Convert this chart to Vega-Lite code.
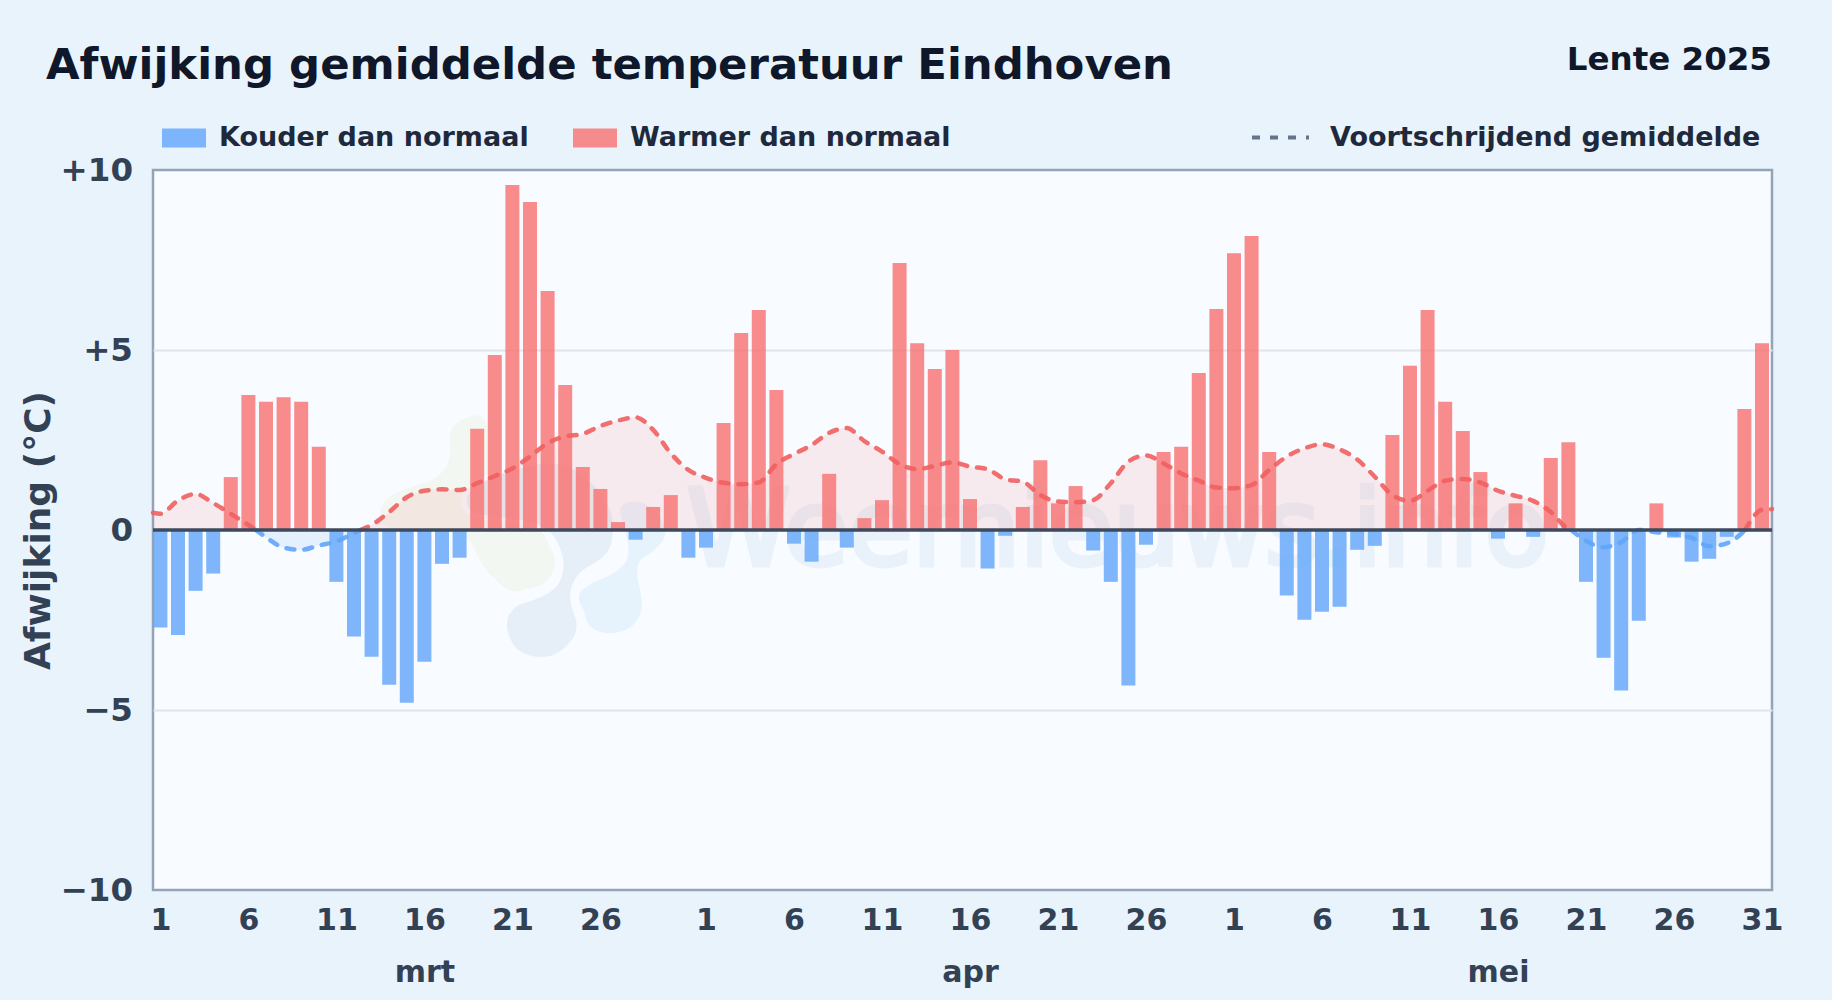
{
"$schema":"https://vega.github.io/schema/vega-lite/v6.json",
"width":1619,"height":720,
"autosize":{"type":"none"},
"padding":{"left":153,"top":170,"right":60,"bottom":110},
"background":"#e9f3fc",
"view":{"fill":"#f8fbff","stroke":"#94a3b8","strokeWidth":2.5},
"title":{"text":"Afwijking gemiddelde temperatuur Eindhoven","anchor":"start","frame":"group","dx":-107,"offset":0,"dy":78,"baseline":"alphabetic","font":"DejaVu Sans","fontSize":43.4,"fontWeight":"bold","color":"#0f172a"},
"config":{"font":"DejaVu Sans"},
"datasets":{
"dagen":[
{"datum":"2025-03-01","afwijking":-2.71},{"datum":"2025-03-02","afwijking":-2.92},{"datum":"2025-03-03","afwijking":-1.69},{"datum":"2025-03-04","afwijking":-1.21},{"datum":"2025-03-05","afwijking":1.47},{"datum":"2025-03-06","afwijking":3.75},{"datum":"2025-03-07","afwijking":3.56},{"datum":"2025-03-08","afwijking":3.69},{"datum":"2025-03-09","afwijking":3.56},{"datum":"2025-03-10","afwijking":2.31},{"datum":"2025-03-11","afwijking":-1.44},{"datum":"2025-03-12","afwijking":-2.96},{"datum":"2025-03-13","afwijking":-3.52},{"datum":"2025-03-14","afwijking":-4.3},{"datum":"2025-03-15","afwijking":-4.8},{"datum":"2025-03-16","afwijking":-3.66},{"datum":"2025-03-17","afwijking":-0.94},{"datum":"2025-03-18","afwijking":-0.77},{"datum":"2025-03-19","afwijking":2.81},{"datum":"2025-03-20","afwijking":4.86},{"datum":"2025-03-21","afwijking":9.58},{"datum":"2025-03-22","afwijking":9.11},{"datum":"2025-03-23","afwijking":6.64},{"datum":"2025-03-24","afwijking":4.03},{"datum":"2025-03-25","afwijking":1.75},{"datum":"2025-03-26","afwijking":1.14},{"datum":"2025-03-27","afwijking":0.22},{"datum":"2025-03-28","afwijking":-0.27},{"datum":"2025-03-29","afwijking":0.64},{"datum":"2025-03-30","afwijking":0.97},{"datum":"2025-03-31","afwijking":-0.77},
{"datum":"2025-04-01","afwijking":-0.49},{"datum":"2025-04-02","afwijking":2.97},{"datum":"2025-04-03","afwijking":5.47},{"datum":"2025-04-04","afwijking":6.11},{"datum":"2025-04-05","afwijking":3.89},{"datum":"2025-04-06","afwijking":-0.38},{"datum":"2025-04-07","afwijking":-0.88},{"datum":"2025-04-08","afwijking":1.56},{"datum":"2025-04-09","afwijking":-0.49},{"datum":"2025-04-10","afwijking":0.33},{"datum":"2025-04-11","afwijking":0.83},{"datum":"2025-04-12","afwijking":7.42},{"datum":"2025-04-13","afwijking":5.19},{"datum":"2025-04-14","afwijking":4.47},{"datum":"2025-04-15","afwijking":5.0},{"datum":"2025-04-16","afwijking":0.86},{"datum":"2025-04-17","afwijking":-1.07},{"datum":"2025-04-18","afwijking":-0.16},{"datum":"2025-04-19","afwijking":0.64},{"datum":"2025-04-20","afwijking":1.94},{"datum":"2025-04-21","afwijking":0.74},{"datum":"2025-04-22","afwijking":1.22},{"datum":"2025-04-23","afwijking":-0.57},{"datum":"2025-04-24","afwijking":-1.44},{"datum":"2025-04-25","afwijking":-4.32},{"datum":"2025-04-26","afwijking":-0.41},{"datum":"2025-04-27","afwijking":2.17},{"datum":"2025-04-28","afwijking":2.31},{"datum":"2025-04-29","afwijking":4.36},{"datum":"2025-04-30","afwijking":6.14},
{"datum":"2025-05-01","afwijking":7.69},{"datum":"2025-05-02","afwijking":8.17},{"datum":"2025-05-03","afwijking":2.17},{"datum":"2025-05-04","afwijking":-1.82},{"datum":"2025-05-05","afwijking":-2.49},{"datum":"2025-05-06","afwijking":-2.27},{"datum":"2025-05-07","afwijking":-2.13},{"datum":"2025-05-08","afwijking":-0.55},{"datum":"2025-05-09","afwijking":-0.44},{"datum":"2025-05-10","afwijking":2.64},{"datum":"2025-05-11","afwijking":4.56},{"datum":"2025-05-12","afwijking":6.11},{"datum":"2025-05-13","afwijking":3.56},{"datum":"2025-05-14","afwijking":2.75},{"datum":"2025-05-15","afwijking":1.61},{"datum":"2025-05-16","afwijking":-0.24},{"datum":"2025-05-17","afwijking":0.74},{"datum":"2025-05-18","afwijking":-0.19},{"datum":"2025-05-19","afwijking":2.0},{"datum":"2025-05-20","afwijking":2.44},{"datum":"2025-05-21","afwijking":-1.44},{"datum":"2025-05-22","afwijking":-3.55},{"datum":"2025-05-23","afwijking":-4.46},{"datum":"2025-05-24","afwijking":-2.52},{"datum":"2025-05-25","afwijking":0.74},{"datum":"2025-05-26","afwijking":-0.21},{"datum":"2025-05-27","afwijking":-0.88},{"datum":"2025-05-28","afwijking":-0.8},{"datum":"2025-05-29","afwijking":-0.19},{"datum":"2025-05-30","afwijking":3.36},{"datum":"2025-05-31","afwijking":5.19}
],
"gemiddelde":[
{"datum":"2025-02-28T13:55:00Z","gem":0.48,"deel":"w1"},{"datum":"2025-03-01","gem":0.45,"deel":"w1"},{"datum":"2025-03-02","gem":0.82,"deel":"w1"},{"datum":"2025-03-03","gem":1.0,"deel":"w1"},{"datum":"2025-03-04","gem":0.75,"deel":"w1"},{"datum":"2025-03-05","gem":0.45,"deel":"w1"},{"datum":"2025-03-06","gem":0.14,"deel":"w1"},{"datum":"2025-03-06T10:00:00Z","gem":0,"deel":"w1"},
{"datum":"2025-03-06T10:00:00Z","gem":0,"deel":"k1"},{"datum":"2025-03-07","gem":-0.2,"deel":"k1"},{"datum":"2025-03-08","gem":-0.49,"deel":"k1"},{"datum":"2025-03-09","gem":-0.55,"deel":"k1"},{"datum":"2025-03-10","gem":-0.43,"deel":"k1"},{"datum":"2025-03-11","gem":-0.32,"deel":"k1"},{"datum":"2025-03-12","gem":-0.09,"deel":"k1"},{"datum":"2025-03-12T09:00:00Z","gem":0,"deel":"k1"},
{"datum":"2025-03-12T09:00:00Z","gem":0,"deel":"w2"},{"datum":"2025-03-13","gem":0.14,"deel":"w2"},{"datum":"2025-03-14","gem":0.5,"deel":"w2"},{"datum":"2025-03-15","gem":0.91,"deel":"w2"},{"datum":"2025-03-16","gem":1.09,"deel":"w2"},{"datum":"2025-03-17","gem":1.13,"deel":"w2"},{"datum":"2025-03-18","gem":1.11,"deel":"w2"},{"datum":"2025-03-19","gem":1.3,"deel":"w2"},{"datum":"2025-03-20","gem":1.5,"deel":"w2"},{"datum":"2025-03-21","gem":1.71,"deel":"w2"},{"datum":"2025-03-22","gem":2.04,"deel":"w2"},{"datum":"2025-03-23","gem":2.41,"deel":"w2"},{"datum":"2025-03-24","gem":2.6,"deel":"w2"},{"datum":"2025-03-25","gem":2.67,"deel":"w2"},{"datum":"2025-03-26","gem":2.89,"deel":"w2"},{"datum":"2025-03-27","gem":3.04,"deel":"w2"},{"datum":"2025-03-28","gem":3.13,"deel":"w2"},{"datum":"2025-03-29","gem":2.78,"deel":"w2"},{"datum":"2025-03-30","gem":2.13,"deel":"w2"},{"datum":"2025-03-31","gem":1.67,"deel":"w2"},
{"datum":"2025-04-01","gem":1.45,"deel":"w2"},{"datum":"2025-04-02","gem":1.31,"deel":"w2"},{"datum":"2025-04-03","gem":1.27,"deel":"w2"},{"datum":"2025-04-04","gem":1.32,"deel":"w2"},{"datum":"2025-04-05","gem":1.83,"deel":"w2"},{"datum":"2025-04-06","gem":2.11,"deel":"w2"},{"datum":"2025-04-07","gem":2.36,"deel":"w2"},{"datum":"2025-04-08","gem":2.7,"deel":"w2"},{"datum":"2025-04-09","gem":2.83,"deel":"w2"},{"datum":"2025-04-10","gem":2.47,"deel":"w2"},{"datum":"2025-04-11","gem":2.18,"deel":"w2"},{"datum":"2025-04-12","gem":1.83,"deel":"w2"},{"datum":"2025-04-13","gem":1.69,"deel":"w2"},{"datum":"2025-04-14","gem":1.78,"deel":"w2"},{"datum":"2025-04-15","gem":1.88,"deel":"w2"},{"datum":"2025-04-16","gem":1.76,"deel":"w2"},{"datum":"2025-04-17","gem":1.69,"deel":"w2"},{"datum":"2025-04-18","gem":1.41,"deel":"w2"},{"datum":"2025-04-19","gem":1.34,"deel":"w2"},{"datum":"2025-04-20","gem":0.97,"deel":"w2"},{"datum":"2025-04-21","gem":0.79,"deel":"w2"},{"datum":"2025-04-22","gem":0.77,"deel":"w2"},{"datum":"2025-04-23","gem":0.83,"deel":"w2"},{"datum":"2025-04-24","gem":1.3,"deel":"w2"},{"datum":"2025-04-25","gem":1.9,"deel":"w2"},{"datum":"2025-04-26","gem":2.07,"deel":"w2"},{"datum":"2025-04-27","gem":1.85,"deel":"w2"},{"datum":"2025-04-28","gem":1.57,"deel":"w2"},{"datum":"2025-04-29","gem":1.37,"deel":"w2"},{"datum":"2025-04-30","gem":1.18,"deel":"w2"},
{"datum":"2025-05-01","gem":1.16,"deel":"w2"},{"datum":"2025-05-02","gem":1.25,"deel":"w2"},{"datum":"2025-05-03","gem":1.67,"deel":"w2"},{"datum":"2025-05-04","gem":2.04,"deel":"w2"},{"datum":"2025-05-05","gem":2.27,"deel":"w2"},{"datum":"2025-05-06","gem":2.38,"deel":"w2"},{"datum":"2025-05-07","gem":2.24,"deel":"w2"},{"datum":"2025-05-08","gem":1.96,"deel":"w2"},{"datum":"2025-05-09","gem":1.48,"deel":"w2"},{"datum":"2025-05-10","gem":0.97,"deel":"w2"},{"datum":"2025-05-11","gem":0.81,"deel":"w2"},{"datum":"2025-05-12","gem":1.09,"deel":"w2"},{"datum":"2025-05-13","gem":1.37,"deel":"w2"},{"datum":"2025-05-14","gem":1.42,"deel":"w2"},{"datum":"2025-05-15","gem":1.32,"deel":"w2"},{"datum":"2025-05-16","gem":1.09,"deel":"w2"},{"datum":"2025-05-17","gem":0.95,"deel":"w2"},{"datum":"2025-05-18","gem":0.81,"deel":"w2"},{"datum":"2025-05-19","gem":0.5,"deel":"w2"},{"datum":"2025-05-20","gem":0.03,"deel":"w2"},{"datum":"2025-05-20T04:00:00Z","gem":0,"deel":"w2"},
{"datum":"2025-05-20T04:00:00Z","gem":0,"deel":"k2"},{"datum":"2025-05-21","gem":-0.3,"deel":"k2"},{"datum":"2025-05-22","gem":-0.48,"deel":"k2"},{"datum":"2025-05-23","gem":-0.34,"deel":"k2"},{"datum":"2025-05-24","gem":0,"deel":"k2"},{"datum":"2025-05-25","gem":-0.06,"deel":"k2"},{"datum":"2025-05-26","gem":-0.11,"deel":"k2"},{"datum":"2025-05-27","gem":-0.22,"deel":"k2"},{"datum":"2025-05-28","gem":-0.45,"deel":"k2"},{"datum":"2025-05-29","gem":-0.37,"deel":"k2"},{"datum":"2025-05-30","gem":-0.02,"deel":"k2"},{"datum":"2025-05-30T01:00:00Z","gem":0,"deel":"k2"},
{"datum":"2025-05-30T01:00:00Z","gem":0,"deel":"w3"},{"datum":"2025-05-31","gem":0.56,"deel":"w3"},{"datum":"2025-05-31T13:40:00Z","gem":0.58,"deel":"w3"}
],
"anker":[{"datum":"2025-03-14T14:38:00Z","waarde":3.89}],
"merk":[{"datum":"2025-04-24T09:30:00Z","waarde":-0.97,"tekst":"Weernieuws.info"}],
"nul":[{"datum":"2025-02-28T13:55:00Z","tot":"2025-05-31T13:40:00Z","waarde":0}],
"seizoen":[{"datum":"2025-05-31T13:40:00Z","waarde":13.05,"tekst":"Lente 2025"}]
},
"encoding":{
"x":{"field":"datum","type":"temporal","title":null,
"scale":{"type":"utc","padding":0,"domain":["2025-02-28T13:55:00Z","2025-05-31T13:40:00Z"]},
"axis":{"domain":false,"ticks":false,"grid":false,"labelFont":"DejaVu Sans","labelFontSize":30,"labelFontWeight":"bold","labelColor":"#334155","labelPadding":15,"labelAngle":0,"labelAlign":"center","labelBaseline":"top","labelLineHeight":52,"labelOverlap":false,"labelBound":false,"labelFlush":false,
"values":[
{"year":2025,"month":3,"date":1,"utc":true},{"year":2025,"month":3,"date":6,"utc":true},{"year":2025,"month":3,"date":11,"utc":true},{"year":2025,"month":3,"date":16,"utc":true},{"year":2025,"month":3,"date":21,"utc":true},{"year":2025,"month":3,"date":26,"utc":true},
{"year":2025,"month":4,"date":1,"utc":true},{"year":2025,"month":4,"date":6,"utc":true},{"year":2025,"month":4,"date":11,"utc":true},{"year":2025,"month":4,"date":16,"utc":true},{"year":2025,"month":4,"date":21,"utc":true},{"year":2025,"month":4,"date":26,"utc":true},
{"year":2025,"month":5,"date":1,"utc":true},{"year":2025,"month":5,"date":6,"utc":true},{"year":2025,"month":5,"date":11,"utc":true},{"year":2025,"month":5,"date":16,"utc":true},{"year":2025,"month":5,"date":21,"utc":true},{"year":2025,"month":5,"date":26,"utc":true},{"year":2025,"month":5,"date":31,"utc":true}],
"labelExpr":"utcdate(datum.value)==16 ? ['16', ['mrt','apr','mei'][utcmonth(datum.value)-2]] : utcFormat(datum.value,'%-d')"}}
},
"layer":[
{"data":{"name":"anker"},"mark":{"type":"point","filled":true,"shape":"M-60,380Q-60,420 20,422Q100,425 152,427Q205,430 227,485Q250,540 290,572Q330,620 380,597Q445,590 458,545Q475,510 451,475Q440,440 420,420Q400,400 350,350Q300,300 285,215Q270,130 260,99Q250,68 212,79Q175,90 160,110Q145,130 150,170Q155,210 132,240Q110,270 55,285Q0,300 -30,320Q-60,340 -60,380Z","size":0.444,"fill":"#f2f8f1","opacity":1},
"encoding":{"y":{"field":"waarde","type":"quantitative","scale":{"domain":[-10,10]},"title":"Afwijking (°C)","axis":{"domain":false,"ticks":false,"grid":true,"gridColor":"#dfe5ec","gridWidth":2,"gridOpacity":{"condition":{"test":"abs(datum.value)==5","value":1},"value":0},"values":[-10,-5,0,5,10],"labelFont":"DejaVu Sans","labelFontSize":32.5,"labelFontWeight":"bold","labelColor":"#334155","labelPadding":20.5,"labelExpr":"datum.value>0 ? '+'+datum.value : datum.value<0 ? '−'+abs(datum.value) : '0'","titleFont":"DejaVu Sans","titleFontSize":36,"titleFontWeight":"bold","titleColor":"#334155","titlePadding":3}}}},
{"data":{"name":"anker"},"mark":{"type":"point","filled":true,"shape":"M553,663Q525,620 548,600Q570,580 610,565Q650,550 670,527Q690,505 685,467Q680,430 665,385Q650,340 695,335Q740,330 775,375Q810,420 790,450Q770,480 735,500Q700,520 717,585Q735,650 717,682Q700,715 665,725Q630,735 595,725Q560,715 553,663Z","size":0.444,"fill":"#e6f3fd","opacity":1},
"encoding":{"y":{"field":"waarde","type":"quantitative"}}},
{"data":{"name":"anker"},"mark":{"type":"point","filled":true,"shape":"M322,745Q305,700 322,670Q340,640 370,632Q400,625 435,607Q470,590 480,555Q490,520 475,480Q460,440 430,420Q400,400 305,390Q210,380 197,355Q185,330 202,305Q220,280 280,255Q340,230 420,215Q500,200 570,265Q640,330 645,390Q650,450 635,480Q620,510 580,530Q540,550 525,585Q510,620 530,670Q550,720 520,757Q490,795 455,805Q420,815 380,802Q340,790 322,745Z","size":0.444,"fill":"#e6eff7","stroke":"#f8fbff","strokeWidth":5,"opacity":1},
"encoding":{"y":{"field":"waarde","type":"quantitative"}}},
{"data":{"name":"merk"},"mark":{"type":"text","font":"DejaVu Sans","fontSize":104.5,"fontWeight":"normal","align":"center","baseline":"alphabetic","fill":"#e9f2fa","stroke":"#e9f2fa","strokeWidth":5},
"encoding":{"y":{"field":"waarde","type":"quantitative"},"text":{"field":"tekst"}}},
{"data":{"name":"gemiddelde"},"mark":{"type":"area","interpolate":"monotone","opacity":0.12},
"encoding":{"y":{"field":"gem","type":"quantitative"},"y2":{"datum":0},"detail":{"field":"deel"},
"fill":{"condition":{"test":"datum.deel=='k1'||datum.deel=='k2'","value":"#60a5fa"},"value":"#f87171"}}},
{"data":{"name":"dagen"},"transform":[{"calculate":"datum.afwijking<0 ? 'Kouder dan normaal' : 'Warmer dan normaal'","as":"soort"}],
"mark":{"type":"bar","width":14,"opacity":0.8},
"encoding":{"y":{"field":"afwijking","type":"quantitative"},
"fill":{"field":"soort","type":"nominal","scale":{"domain":["Kouder dan normaal","Warmer dan normaal"],"range":["#60a5fa","#f87171"]},
"legend":{"title":null,"orient":"none","legendX":9,"legendY":-54,"direction":"horizontal","columns":2,"symbolType":"M-1,-0.43H1V0.43H-1Z","symbolSize":1936,"symbolOpacity":0.8,"symbolStrokeWidth":0,"labelFont":"DejaVu Sans","labelFontSize":27,"labelFontWeight":"bold","labelColor":"#1e293b","labelOffset":13,"columnPadding":44,"labelLimit":500}}}},
{"data":{"name":"gemiddelde"},"mark":{"type":"line","interpolate":"monotone","strokeWidth":4.5,"strokeCap":"round","opacity":0.9},
"encoding":{"y":{"field":"gem","type":"quantitative"},"detail":{"field":"deel"},
"stroke":{"condition":{"test":"datum.deel=='k1'||datum.deel=='k2'","value":"#60a5fa"},"value":"#ef5f5f"},
"strokeDash":{"datum":"Voortschrijdend gemiddelde","type":"nominal","scale":{"domain":["Voortschrijdend gemiddelde"],"range":[[8,10]]},
"legend":{"title":null,"orient":"none","legendX":1097,"legendY":-63,"symbolType":"stroke","symbolSize":3249,"symbolStrokeColor":"#64748b","symbolStrokeWidth":4,"labelFont":"DejaVu Sans","labelFontSize":27,"labelFontWeight":"bold","labelColor":"#1e293b","labelOffset":19,"labelLimit":600,
"encoding":{"symbols":{"stroke":{"value":"#64748b"},"strokeDash":{"value":[1,16.5]},"strokeWidth":{"value":4},"opacity":{"value":1}}}}}}},
{"data":{"name":"nul"},"mark":{"type":"rule","color":"#3d4a5e","strokeWidth":3.5},"encoding":{"x2":{"field":"tot"},"y":{"field":"waarde","type":"quantitative"}}},
{"data":{"name":"seizoen"},"mark":{"type":"text","font":"DejaVu Sans","fontSize":32.5,"fontWeight":"bold","align":"right","baseline":"middle","color":"#0f172a"},
"encoding":{"y":{"field":"waarde","type":"quantitative"},"text":{"field":"tekst"}}}
]
}
